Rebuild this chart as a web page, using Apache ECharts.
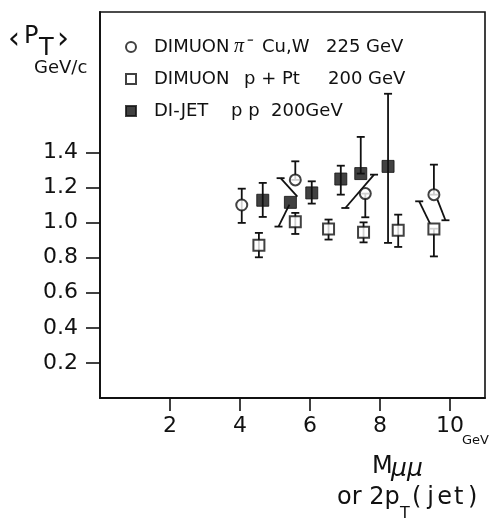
<!DOCTYPE html>
<html>
<head>
<meta charset="utf-8">
<script src="https://cdn.jsdelivr.net/npm/echarts@6/dist/echarts.min.js"></script>
<style>
  html, body { margin: 0; background: #fff; }
  #chart { width: 503px; height: 527px; }
</style>
</head>
<body>
<div id="chart"></div>
<script>
// DIMUON pi- Cu,W 225 GeV  (open circles)
const circleX = [4.05, 5.58, 7.58, 9.54];
const circleY = [1.100, 1.243, 1.165, 1.159];
// DIMUON p + Pt 200 GeV  (open squares)
const squareX = [4.54, 5.58, 6.53, 7.53, 8.52, 9.54];
const squareY = [0.870, 1.005, 0.963, 0.944, 0.956, 0.963];
// DI-JET p p 200 GeV  (filled squares)
const jetX = [4.65, 5.44, 6.05, 6.88, 7.45, 8.23];
const jetY = [1.127, 1.115, 1.169, 1.248, 1.279, 1.320];

// vertical error bars: x, lower end, upper end
const errBars = [
    [4.05, 0.998, 1.193],
    [5.58, 1.243, 1.349],
    [7.58, 1.030, 1.165],
    [9.54, 1.159, 1.330],
    [4.54, 0.802, 0.941],
    [5.58, 0.935, 1.055],
    [6.53, 0.903, 1.017],
    [7.53, 0.887, 1.001],
    [8.52, 0.861, 1.045],
    [9.54, 0.807, 0.965],
    [4.65, 1.032, 1.226],
    [6.05, 1.108, 1.235],
    [6.88, 1.159, 1.324],
    [7.45, 1.279, 1.488],
    [8.23, 0.884, 1.734],
];
// slanted error bars (drawn aside to avoid overlap): x1, y1, x2, y2, cap at 1, cap at 2
const slantBars = [
    [5.16, 1.253, 5.64, 1.148, 1, 0],
    [5.10, 0.977, 5.41, 1.102, 1, 0],
    [7.83, 1.273, 7.01, 1.083, 1, 1],
    [9.64, 1.131, 9.87, 1.013, 0, 1],
    [9.12, 1.121, 9.43, 0.994, 1, 0],
];

const xTicks = [2, 4, 6, 8, 10];
const yTicks = [0.2, 0.4, 0.6, 0.8, 1.0, 1.2, 1.4];

const legendText = {
    circ: '{a1|DIMUON}{b1|π⁻}{b1b|Cu,W}{c|225 GeV}',
    sq: '{a2|DIMUON}{b2|p + Pt}{c|200 GeV}',
    jet: '{a3|DI-JET}{b3|p p}{c|200GeV}',
};

const FONT = 'DejaVu Sans';
const INK = '#111';
const LW = 1.8;

function zip(xs, ys) {
    return xs.map((x, i) => [x, ys[i]]);
}

function capLine(p, w) {
    return {
        type: 'line',
        shape: { x1: p[0] - w, y1: p[1], x2: p[0] + w, y2: p[1] },
        style: { stroke: INK, lineWidth: LW },
    };
}

const chart = echarts.init(document.getElementById('chart'), null, { renderer: 'canvas' });

const option = {
    animation: false,
    backgroundColor: '#fff',
    grid: {
        left: 100, right: 18, top: 12, bottom: 129,
        show: true,
        borderColor: INK,
        borderWidth: 1.6,
    },
    xAxis: {
        type: 'value',
        min: 0,
        max: 11,
        interval: 2,
        axisLine: { show: true, lineStyle: { color: INK, width: 1.8 } },
        axisTick: {
            show: true,
            customValues: xTicks,
            length: 13,
            lineStyle: { color: INK, width: 1.6 },
        },
        axisLabel: {
            customValues: xTicks,
            margin: 17,
            color: INK,
            fontFamily: FONT,
            fontSize: 22,
        },
        splitLine: { show: false },
    },
    yAxis: {
        type: 'value',
        min: 0,
        max: 2.2,
        interval: 0.2,
        axisLine: { show: true, lineStyle: { color: INK, width: 1.8 } },
        axisTick: {
            show: true,
            customValues: yTicks,
            length: 14,
            lineStyle: { color: INK, width: 1.6 },
        },
        axisLabel: {
            customValues: yTicks,
            margin: 22,
            color: INK,
            fontFamily: FONT,
            fontSize: 22,
            formatter: v => v.toFixed(1),
        },
        splitLine: { show: false },
    },
    legend: {
        orient: 'vertical',
        left: 125,
        top: 37,
        padding: 0,
        itemGap: 12,
        itemWidth: 10,
        itemHeight: 10,
        data: ['circ', 'sq', 'jet'],
        formatter: name => '{sp|}' + legendText[name],
        textStyle: {
            fontFamily: FONT,
            fontSize: 18,
            color: INK,
            lineHeight: 20,
            rich: {
                sp: { width: 13 },
                a1: { width: 80, fontSize: 18, fontFamily: FONT },
                a2: { width: 90, fontSize: 18, fontFamily: FONT },
                a3: { width: 77, fontSize: 18, fontFamily: FONT },
                b1: { width: 28, fontSize: 20, fontFamily: 'Liberation Serif', fontStyle: 'italic' },
                b1b: { width: 64, fontSize: 18, fontFamily: FONT },
                b2: { width: 84, fontSize: 18, fontFamily: FONT },
                b3: { width: 40, fontSize: 18, fontFamily: FONT },
                c: { fontSize: 18, fontFamily: FONT },
            },
        },
    },
    graphic: [
        { type: 'text', left: 8, top: 25, style: { text: '‹', font: '30px "DejaVu Sans"', fill: INK } },
        { type: 'text', left: 24, top: 25, style: { text: 'P', font: '24px "DejaVu Sans"', fill: INK } },
        { type: 'text', left: 39, top: 37, style: { text: 'T', font: '24px "DejaVu Sans"', fill: INK } },
        { type: 'text', left: 57, top: 25, style: { text: '›', font: '30px "DejaVu Sans"', fill: INK } },
        { type: 'text', left: 34, top: 59, style: { text: 'GeV/c', font: '18px "DejaVu Sans"', fill: INK } },
        { type: 'text', left: 462, top: 434, style: { text: 'GeV', font: '13px "DejaVu Sans"', fill: INK } },
        { type: 'text', left: 372, top: 455, style: { text: 'M', font: '24px "DejaVu Sans"', fill: INK } },
        { type: 'text', left: 391, top: 457, style: { text: 'μμ', font: 'italic 25px "DejaVu Sans"', fill: INK } },
        { type: 'text', left: 337, top: 486, style: { text: 'or 2p', font: '24px "DejaVu Sans"', fill: INK } },
        { type: 'text', left: 400, top: 506, style: { text: 'T', font: '16px "DejaVu Sans"', fill: INK } },
        {
            type: 'text', left: 412, top: 486,
            style: {
                text: '{p|(}{p|j}{p|e}{p|t}{p|)}',
                font: '24px "DejaVu Sans"',
                fill: INK,
                rich: { p: { width: 14, align: 'center', fontSize: 24, fontFamily: FONT } },
            },
        },
    ],
    series: [
        {
            name: 'errors',
            type: 'custom',
            silent: true,
            encode: { x: 0, y: [1, 2] },
            data: errBars,
            renderItem: function (params, api) {
                const x = api.value(0);
                const lo = api.coord([x, api.value(1)]);
                const hi = api.coord([x, api.value(2)]);
                return {
                    type: 'group',
                    children: [
                        {
                            type: 'line',
                            shape: { x1: lo[0], y1: lo[1], x2: hi[0], y2: hi[1] },
                            style: { stroke: INK, lineWidth: LW },
                        },
                        capLine(lo, 4),
                        capLine(hi, 4),
                    ],
                };
            },
            z: 1,
        },
        {
            name: 'slanted',
            type: 'custom',
            silent: true,
            encode: { x: [0, 2], y: [1, 3] },
            data: slantBars,
            renderItem: function (params, api) {
                const a = api.coord([api.value(0), api.value(1)]);
                const b = api.coord([api.value(2), api.value(3)]);
                const children = [{
                    type: 'line',
                    shape: { x1: a[0], y1: a[1], x2: b[0], y2: b[1] },
                    style: { stroke: INK, lineWidth: LW },
                }];
                if (api.value(4)) children.push(capLine(a, 4));
                if (api.value(5)) children.push(capLine(b, 4));
                return { type: 'group', children: children };
            },
            z: 1,
        },
        {
            name: 'circ',
            type: 'scatter',
            symbol: 'circle',
            symbolSize: 11,
            data: zip(circleX, circleY),
            itemStyle: { color: '#fff', borderColor: INK, borderWidth: 2 },
            z: 3,
        },
        {
            name: 'sq',
            type: 'scatter',
            symbol: 'rect',
            symbolSize: 11,
            data: zip(squareX, squareY),
            itemStyle: { color: '#fff', borderColor: INK, borderWidth: 2 },
            z: 3,
        },
        {
            name: 'jet',
            type: 'scatter',
            symbol: 'rect',
            symbolSize: 12,
            data: zip(jetX, jetY),
            itemStyle: { color: INK, borderColor: INK, borderWidth: 1 },
            z: 3,
        },
    ],
};

chart.setOption(option);
</script>
</body>
</html>
